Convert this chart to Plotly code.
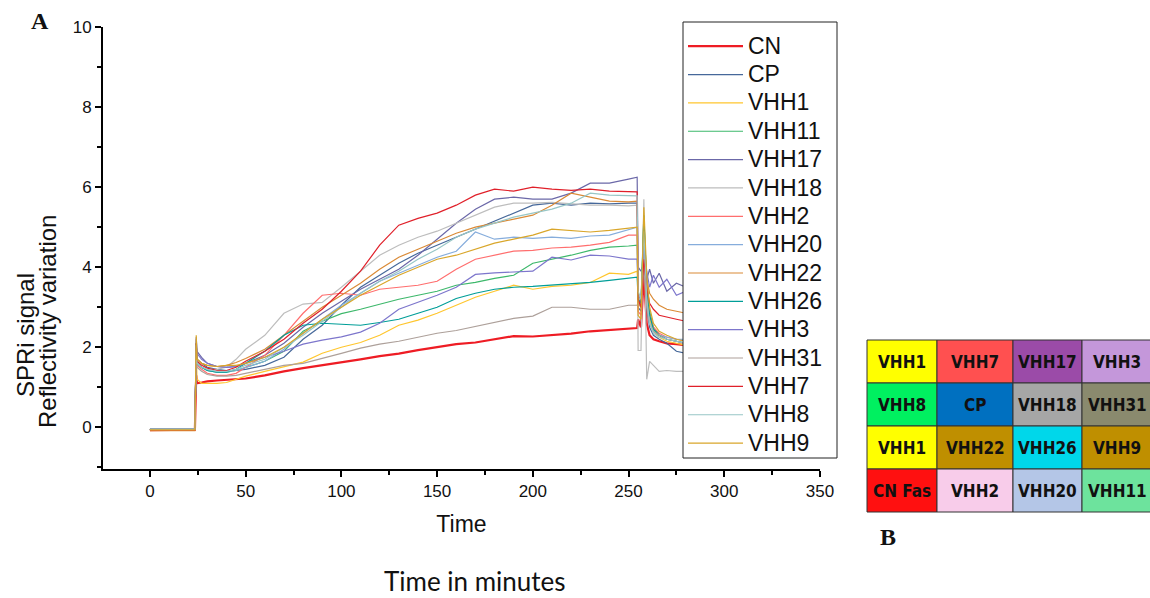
import plotly.graph_objects as go

# ---------------- data ----------------
time_min = [0, 23.5, 24.2, 24.6, 27, 30, 35, 40, 45, 50, 60, 70, 80, 90, 100, 110, 120, 130,
            140, 150, 160, 170, 180, 190, 200, 210, 220, 230, 240, 250, 254.5, 255, 256.5, 258,
            259.5, 261, 263, 266, 270, 275, 280, 290]

series_names = ["CN", "CP", "VHH1", "VHH11", "VHH17", "VHH18", "VHH2", "VHH20", "VHH22",
                "VHH26", "VHH3", "VHH31", "VHH7", "VHH8", "VHH9"]

CN = [-0.07, -0.06, 1.3, 1.1, 1.12, 1.15, 1.17, 1.19, 1.2, 1.22, 1.3, 1.4, 1.48, 1.55, 1.62, 1.7,
      1.78, 1.84, 1.93, 2.0, 2.08, 2.12, 2.2, 2.28, 2.27, 2.3, 2.34, 2.4, 2.43, 2.45,
      2.48, 2.7, 2.5, 3.8, 2.6, 2.3, 2.2, 2.15, 2.1, 2.08, 2.05, 2.0]
CP = [-0.05, -0.05, 2.0, 1.7, 1.6, 1.5, 1.45, 1.42, 1.42, 1.45, 1.55, 1.75, 2.2, 2.55, 3.05, 3.5,
      3.8, 4.1, 4.35, 4.55, 4.75, 4.95, 5.15, 5.35, 5.55, 5.6, 5.55, 5.6, 5.58, 5.6,
      5.6, 3.0, 2.9, 4.5, 3.0, 2.5, 2.3, 2.2, 2.1, 1.9, 1.85, 1.8]
VHH1 = [-0.06, -0.06, 1.9, 1.2, 1.1, 1.1, 1.1, 1.12, 1.2, 1.28, 1.4, 1.52, 1.63, 1.85, 2.0, 2.12,
        2.3, 2.55, 2.68, 2.85, 3.05, 3.25, 3.4, 3.55, 3.45, 3.52, 3.55, 3.62, 3.85, 3.82,
        3.9, 3.3, 3.1, 5.0, 3.4, 2.7, 2.4, 2.25, 2.15, 2.1, 2.05, 2.0]
VHH11 = [-0.05, -0.05, 2.1, 1.6, 1.5, 1.42, 1.38, 1.38, 1.42, 1.5, 1.65, 1.9, 2.4, 2.65, 2.84, 2.95,
         3.08, 3.2, 3.3, 3.4, 3.55, 3.62, 3.72, 3.8, 4.1, 4.2, 4.3, 4.42, 4.5, 4.53,
         4.55, 3.2, 3.0, 5.2, 3.6, 2.9, 2.5, 2.3, 2.2, 2.15, 2.1, 2.05]
VHH17 = [-0.05, -0.05, 2.25, 1.9, 1.75, 1.6, 1.52, 1.5, 1.52, 1.6, 1.8, 2.1, 2.5, 2.85, 3.15, 3.45,
         3.7, 3.95, 4.3, 4.7, 5.1, 5.45, 5.7, 5.75, 5.7, 5.7, 5.85, 6.1, 6.1, 6.2,
         6.25, 4.0, 3.9, 4.1, 3.7, 3.95, 3.6, 3.85, 3.4, 3.6, 3.5, 3.4]
VHH18 = [-0.04, -0.04, 2.0, 1.6, 1.5, 1.45, 1.45, 1.5, 1.7, 1.95, 2.3, 2.85, 3.08, 3.12, 3.5, 3.9,
         4.3, 4.55, 4.75, 4.9, 5.1, 5.3, 5.5, 5.6, 5.6, 5.62, 5.58, 5.55, 5.55, 5.53,
         5.55, 1.92, 1.92, 5.7, 1.2, 1.65, 1.55, 1.4, 1.42, 1.4, 1.4, 1.4]
VHH2 = [-0.05, -0.05, 2.0, 1.55, 1.45, 1.35, 1.3, 1.3, 1.35, 1.5, 1.8, 2.3, 2.85, 3.3, 3.35, 3.3,
        3.45, 3.5, 3.55, 3.65, 3.95, 4.2, 4.3, 4.4, 4.42, 4.48, 4.5, 4.55, 4.62, 4.8,
        4.8, 2.9, 2.8, 4.6, 3.4, 2.8, 2.5, 2.35, 2.25, 2.2, 2.15, 2.1]
VHH20 = [-0.05, -0.05, 2.0, 1.6, 1.5, 1.42, 1.38, 1.38, 1.42, 1.5, 1.65, 1.95, 2.35, 2.7, 3.05, 3.35,
         3.65, 3.85, 4.05, 4.25, 4.4, 4.88, 4.7, 4.75, 4.72, 4.75, 4.72, 4.78, 4.8, 4.95,
         5.0, 3.3, 3.0, 4.4, 3.1, 2.6, 2.4, 2.3, 2.25, 2.2, 2.2, 2.15]
VHH22 = [-0.08, -0.08, 2.1, 1.7, 1.6, 1.55, 1.52, 1.55, 1.62, 1.72, 1.95, 2.3, 2.65, 3.0, 3.3, 3.6,
         3.95, 4.25, 4.45, 4.65, 4.85, 5.0, 5.1, 5.2, 5.3, 5.55, 5.85, 5.75, 5.65, 5.63,
         5.65, 3.1, 3.0, 4.8, 3.7, 3.35, 3.2, 3.05, 2.95, 2.9, 2.85, 2.8]
VHH26 = [-0.05, -0.05, 2.1, 1.6, 1.5, 1.42, 1.38, 1.38, 1.45, 1.6, 1.9, 2.3, 2.55, 2.6, 2.58, 2.55,
         2.62, 2.7, 2.85, 3.0, 3.22, 3.35, 3.45, 3.5, 3.52, 3.55, 3.58, 3.62, 3.67, 3.72,
         3.75, 3.2, 3.1, 5.3, 3.5, 2.8, 2.45, 2.3, 2.2, 2.15, 2.1, 2.1]
VHH3 = [-0.05, -0.05, 2.2, 1.85, 1.7, 1.6, 1.52, 1.5, 1.52, 1.6, 1.75, 1.9, 2.08, 2.18, 2.26, 2.38,
        2.6, 2.95, 3.12, 3.3, 3.5, 3.82, 3.86, 3.88, 3.9, 4.25, 4.18, 4.3, 4.28, 4.2,
        4.2, 3.3, 3.2, 4.5, 3.9, 3.5, 3.8, 3.5, 3.7, 3.3, 3.4, 3.3]
VHH31 = [-0.05, -0.05, 1.9, 1.5, 1.4, 1.32, 1.28, 1.28, 1.3, 1.35, 1.45, 1.55, 1.6, 1.72, 1.85, 1.98,
         2.08, 2.15, 2.25, 2.35, 2.42, 2.52, 2.62, 2.72, 2.78, 3.0, 3.0, 2.95, 2.95, 3.05,
         3.05, 3.1, 3.0, 4.0, 3.0, 2.6, 2.4, 2.3, 2.2, 2.15, 2.1, 2.1]
VHH7 = [-0.06, -0.06, 2.1, 1.65, 1.55, 1.48, 1.42, 1.42, 1.5, 1.65, 1.9, 2.2, 2.6, 2.95, 3.4, 3.9,
        4.55, 5.05, 5.22, 5.35, 5.55, 5.8, 5.95, 5.9, 6.0, 5.95, 5.92, 5.95, 5.9, 5.88,
        5.88, 3.2, 3.0, 4.2, 3.5, 3.1, 2.95, 2.8, 2.75, 2.7, 2.65, 2.6]
VHH8 = [-0.05, -0.05, 2.05, 1.6, 1.5, 1.45, 1.4, 1.4, 1.45, 1.55, 1.7, 2.0, 2.3, 2.65, 3.0, 3.35,
        3.65, 3.9, 4.2, 4.45, 4.75, 4.95, 5.1, 5.25, 5.35, 5.45, 5.6, 5.85, 5.8, 5.78,
        5.78, 3.4, 3.2, 4.9, 3.2, 2.6, 2.35, 2.25, 2.2, 2.15, 2.1, 2.1]
VHH9 = [-0.06, -0.06, 2.3, 1.7, 1.6, 1.55, 1.52, 1.55, 1.55, 1.6, 1.75, 2.0, 2.35, 2.7, 3.0, 3.3,
        3.55, 3.8, 4.0, 4.2, 4.3, 4.45, 4.6, 4.7, 4.8, 4.95, 4.92, 4.88, 4.92, 4.97,
        5.0, 2.8, 2.7, 5.5, 3.8, 3.0, 2.6, 2.4, 2.3, 2.2, 2.15, 2.1]

series_values = [CN, CP, VHH1, VHH11, VHH17, VHH18, VHH2, VHH20, VHH22, VHH26, VHH3, VHH31,
                 VHH7, VHH8, VHH9]

x_ticks = [0, 50, 100, 150, 200, 250, 300, 350]
y_ticks = [0, 2, 4, 6, 8, 10]

table_labels = [["VHH1", "VHH7", "VHH17", "VHH3"],
                ["VHH8", "CP", "VHH18", "VHH31"],
                ["VHH1", "VHH22", "VHH26", "VHH9"],
                ["CN Fas", "VHH2", "VHH20", "VHH11"]]

# ---------------- styles ----------------
series_colors = ["#EE1C24", "#46689A", "#FFC62E", "#3DB86B", "#6B68A8", "#BDBDBD", "#FF6E6E",
                 "#86ADDC", "#DA8A36", "#009E98", "#7D76CC", "#ADA09A", "#E0202A", "#97C6C6",
                 "#D9A62A"]
series_widths = [2.2] + [1.2] * 14

table_colors = [["#FFFF00", "#FF5050", "#9B4BA8", "#C497DA"],
                ["#00F060", "#0070C0", "#A6A6A6", "#8A8A6E"],
                ["#FFFF00", "#BF8F00", "#00D7EA", "#BF8F00"],
                ["#FF1010", "#F8CCEA", "#B4C6E7", "#6DE39D"]]

W, H = 1150, 598
L, R, T, B = 103, 820, 27, 469   # plot area in pixels


def xp(px):
    return (px - L) / (R - L)


def yp(py):
    return (B - py) / (B - T)


fig = go.Figure()
for name, vals, col, lw in zip(series_names, series_values, series_colors, series_widths):
    fig.add_trace(go.Scatter(x=time_min, y=vals, mode="lines",
                             name='<span style="font-size:23px">' + name + '</span>',
                             line=dict(color=col, width=lw)))

axis_font = dict(family="Liberation Sans, Arial, sans-serif", size=17, color="#111")

fig.update_layout(
    width=W, height=H,
    margin=dict(l=L, r=W - R, t=T, b=H - B),
    paper_bgcolor="white", plot_bgcolor="white",
    font=dict(family="Liberation Sans, Arial, sans-serif", color="#111"),
    xaxis=dict(range=[-24.5, 350], tickvals=x_ticks, ticks="outside", ticklen=6,
               tickwidth=1.5, tickcolor="black", showline=True, linecolor="black",
               linewidth=1.8, showgrid=False, zeroline=False, tickfont=axis_font,
               minor=dict(dtick=25, tick0=-25, ticks="outside", ticklen=4, tickcolor="black"),
               title=dict(text="Time", font=dict(size=23, family="Liberation Sans, Arial"),
                          standoff=16)),
    yaxis=dict(range=[-1.04, 10], tickvals=y_ticks, ticks="outside", ticklen=6,
               tickwidth=1.5, tickcolor="black", showline=True, linecolor="black",
               linewidth=1.8, showgrid=False, zeroline=False, tickfont=axis_font,
               minor=dict(dtick=1, tick0=0, ticks="outside", ticklen=4, tickcolor="black")),
    legend=dict(x=xp(683), y=1.0, xanchor="left", yanchor="top",
                bgcolor="rgba(0,0,0,0)", borderwidth=0, itemwidth=55,
                font=dict(size=19.5, family="Liberation Sans, Arial", color="#111"),
                tracegroupgap=0),
    showlegend=True,
)

shapes = [dict(type="rect", xref="paper", yref="paper", x0=xp(683), x1=xp(837),
               y0=yp(458), y1=yp(22), fillcolor="white", line=dict(color="#222", width=1),
               layer="above")]
annotations = []

col_edges = [867, 937, 1013, 1082, 1152]
row_edges = [340, 383, 426, 469, 512]
for r, (lab_row, col_row) in enumerate(zip(table_labels, table_colors)):
    for c, (lab, colr) in enumerate(zip(lab_row, col_row)):
        shapes.append(dict(type="rect", xref="paper", yref="paper",
                           x0=xp(col_edges[c]), x1=xp(col_edges[c + 1]),
                           y0=yp(row_edges[r + 1]), y1=yp(row_edges[r]),
                           fillcolor=colr, line=dict(color="#333", width=1), layer="above"))
        annotations.append(dict(xref="paper", yref="paper", xanchor="center", yanchor="middle",
                                x=xp((col_edges[c] + col_edges[c + 1]) / 2),
                                y=yp((row_edges[r] + row_edges[r + 1]) / 2),
                                text="<b>" + lab + "</b>", showarrow=False,
                                font=dict(family="DejaVu Sans Condensed, Lato, sans-serif",
                                          size=17, color="#111")))

annotations += [
    dict(xref="paper", yref="paper", x=xp(40), y=yp(21), text="<b>A</b>", showarrow=False,
         xanchor="center", yanchor="middle",
         font=dict(family="Liberation Serif, DejaVu Serif, serif", size=24, color="#111")),
    dict(xref="paper", yref="paper", x=xp(888), y=yp(537), text="<b>B</b>", showarrow=False,
         xanchor="center", yanchor="middle",
         font=dict(family="Liberation Serif, DejaVu Serif, serif", size=24, color="#111")),
    dict(xref="paper", yref="paper", x=xp(475), y=yp(581), text="Time in minutes",
         showarrow=False, xanchor="center", yanchor="middle",
         font=dict(family="Lato, Open Sans, sans-serif", size=26, color="#111")),
    dict(xref="paper", yref="paper", x=xp(25), y=yp(335), text="SPRi signal",
         textangle=-90, showarrow=False, xanchor="center", yanchor="middle",
         font=dict(family="Liberation Sans, Arial, sans-serif", size=24, color="#111")),
    dict(xref="paper", yref="paper", x=xp(47), y=yp(322), text="Reflectivity variation",
         textangle=-90, showarrow=False, xanchor="center", yanchor="middle",
         font=dict(family="Liberation Sans, Arial, sans-serif", size=24, color="#111")),
]

fig.update_layout(shapes=shapes, annotations=annotations)
fig.write_html("out.html", config={"displayModeBar": False},
               post_script="document.body.style.margin='0';")
